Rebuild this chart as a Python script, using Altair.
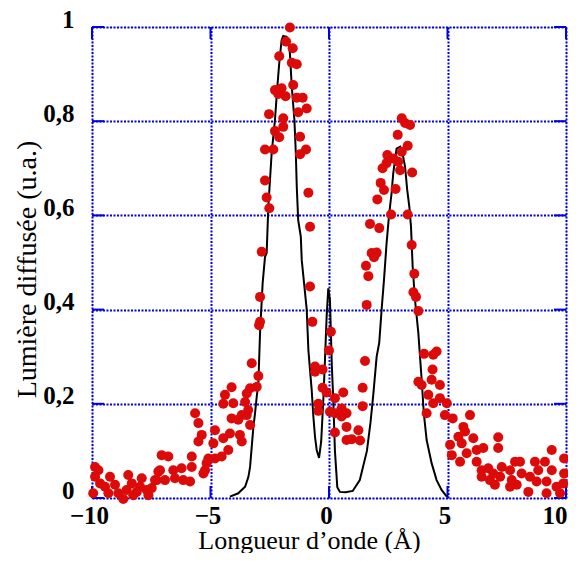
import altair as alt
import pandas as pd

# ---------------- data ----------------
line_x = [-4.18, -3.83, -3.54, -3.40, -3.33, -3.26, -3.19, -3.12, -3.05, -2.98, -2.91, -2.80,
          -2.70, -2.63, -2.56, -2.42, -2.28, -2.18, -2.10, -2.00, -1.93, -1.79, -1.68, -1.65,
          -1.57, -1.46, -1.40, -1.36, -1.30, -1.19, -1.15, -1.08, -0.94, -0.87, -0.73, -0.66,
          -0.59, -0.52, -0.42, -0.33, -0.24, -0.17, -0.10, -0.03, 0.04, 0.08, 0.12, 0.18,
          0.25, 0.35, 0.46, 0.70, 1.00, 1.30, 1.60, 1.75, 1.87, 2.01, 2.12, 2.22, 2.32, 2.43,
          2.54, 2.64, 2.71, 2.85, 3.00, 3.10, 3.21, 3.30, 3.39, 3.46, 3.53, 3.63, 3.77, 3.84,
          3.91, 4.00, 4.12, 4.33, 4.54, 4.75, 4.97]
line_y = [0.003, 0.010, 0.024, 0.045, 0.066, 0.109, 0.151, 0.180, 0.215, 0.244, 0.350, 0.456,
          0.512, 0.520, 0.619, 0.732, 0.803, 0.873, 0.923, 0.972, 0.981, 0.979, 0.958, 0.944,
          0.873, 0.803, 0.732, 0.661, 0.590, 0.555, 0.505, 0.470, 0.400, 0.314, 0.229, 0.173,
          0.130, 0.102, 0.085, 0.120, 0.208, 0.293, 0.385, 0.445, 0.420, 0.350, 0.280, 0.210,
          0.100, 0.023, 0.013, 0.012, 0.015, 0.038, 0.100, 0.160, 0.220, 0.300, 0.330, 0.400,
          0.463, 0.541, 0.604, 0.647, 0.689, 0.742, 0.746, 0.732, 0.703, 0.654, 0.618, 0.576,
          0.491, 0.420, 0.350, 0.300, 0.251, 0.180, 0.123, 0.074, 0.038, 0.017, 0.003]

pts_x = [
    # left tail
    -2.98, -4.11, -4.39, -3.33, -3.47, -3.05, -4.46, -4.04, -3.54, -3.41, -3.47, -4.11, -3.83,
    -3.68, -3.33, -5.65, -5.51, -5.37, -5.51, -4.81, -4.88, -4.46, -4.18, -3.76, -3.68, -4.25,
    -4.53, -4.81, -5.09, -5.16, -5.23, -5.30, -5.79, -5.79, -7.06, -6.78, -7.13, -6.57, -6.22,
    -7.27, -6.92, -6.50, -6.15, -5.86, -9.87, -9.73, -9.87, -9.66, -9.95, -9.24, -9.45, -9.03,
    -9.31, -8.89, -8.68, -8.47, -8.32, -8.54, -8.11, -8.26, -7.90, -7.97, -7.69, -7.62, -7.48,
    -7.34, -7.20, -2.91, -2.91, -2.95, -3.26, -2.84,
    # left peak
    -1.65, -1.81, -1.53, -2.10, -1.57, -1.36, -1.51, -2.28, -2.00, -2.14, -1.83, -1.36, -1.11,
    -0.94, -1.30, -2.53, -1.93, -1.93, -2.28, -2.10, -1.22, -2.70, -2.35, -0.97, -1.22, -2.70,
    -0.87, -2.63, -2.52, -0.80,
    # centre
    -0.80, -0.70, 0.08, 0.00, -0.59, -0.59, -0.27, -0.27, -0.10, 0.25, 0.60, -0.45, -0.45, 0.04,
    0.25, 0.53, 0.74, 0.53, 0.25, 0.74, 1.24, 0.74, 0.96, 1.31, 1.52, 1.42, 1.42, 1.59, 1.66,
    1.56, 1.80, 2.01,
    # right peak
    3.07, 3.21, 3.42, 2.90, 3.32, 3.07, 2.46, 2.71, 2.92, 2.43, 2.26, 3.00, 3.51, 2.18, 2.32,
    2.81, 2.04, 2.62, 3.32, 1.73, 2.12, 3.49, 1.90, 3.60, 3.56, 3.67, 3.77, 4.54,
    # right tail
    4.01, 4.40, 4.37, 3.77, 3.91, 4.33, 4.68, 4.19, 4.68, 4.40, 4.97, 4.12, 4.89, 5.22, 5.95,
    5.67, 5.74, 5.46, 5.11, 5.60, 6.09, 5.18, 5.53, 5.81, 6.23, 6.51, 7.14, 7.14, 6.23, 6.44,
    6.72, 6.44, 6.79, 7.00, 7.29, 7.22, 7.71, 7.92, 8.06, 8.13, 8.48, 8.41, 8.69, 8.83, 8.76,
    9.11, 9.40, 9.40, 9.18, 9.18, 9.60, 9.75, 9.92, 9.92, 9.89, 7.64, 7.85, 6.93, 7.64]
pts_y = [
    # left tail
    0.259, 0.235, 0.219, 0.233, 0.222, 0.236, 0.200, 0.201, 0.204, 0.187, 0.176, 0.169, 0.166,
    0.176, 0.155, 0.180, 0.159, 0.134, 0.120, 0.144, 0.116, 0.127, 0.137, 0.134, 0.120, 0.102,
    0.088, 0.084, 0.084, 0.074, 0.059, 0.052, 0.088, 0.066, 0.091, 0.088, 0.059, 0.059, 0.063,
    0.038, 0.038, 0.042, 0.038, 0.035, 0.066, 0.059, 0.045, 0.031, 0.010, 0.045, 0.024, 0.028,
    0.010, 0.010, -0.002, 0.049, 0.031, 0.017, 0.013, 0.006, 0.042, 0.024, 0.017, 0.006, 0.021,
    0.038, 0.056, 0.427, 0.374, 0.367, 0.286, 0.523,
    # left peak
    0.999, 0.969, 0.955, 0.938, 0.924, 0.921, 0.877, 0.866, 0.870, 0.858, 0.853, 0.850, 0.850,
    0.827, 0.819, 0.815, 0.806, 0.788, 0.779, 0.766, 0.767, 0.740, 0.740, 0.740, 0.730, 0.674,
    0.648, 0.638, 0.615, 0.576,
    # centre
    0.449, 0.374, 0.353, 0.313, 0.279, 0.268, 0.273, 0.234, 0.224, 0.212, 0.224, 0.200, 0.185,
    0.183, 0.180, 0.190, 0.180, 0.173, 0.139, 0.151, 0.144, 0.123, 0.125, 0.122, 0.291, 0.234,
    0.195, 0.410, 0.471, 0.493, 0.520, 0.521,
    # right peak
    0.806, 0.796, 0.792, 0.771, 0.748, 0.735, 0.728, 0.721, 0.714, 0.711, 0.700, 0.696, 0.691,
    0.669, 0.654, 0.656, 0.634, 0.602, 0.602, 0.582, 0.573, 0.537, 0.511, 0.476, 0.437, 0.427,
    0.397, 0.311,
    # right tail
    0.306, 0.304, 0.273, 0.247, 0.240, 0.251, 0.240, 0.219, 0.212, 0.201, 0.201, 0.180, 0.176,
    0.169, 0.176, 0.151, 0.141, 0.130, 0.113, 0.116, 0.127, 0.091, 0.077, 0.095, 0.102, 0.106,
    0.129, 0.106, 0.077, 0.059, 0.063, 0.045, 0.038, 0.028, 0.066, 0.045, 0.038, 0.028, 0.077,
    0.052, 0.045, 0.013, 0.077, 0.059, 0.035, 0.077, 0.102, 0.059, 0.035, 0.010, 0.024, 0.010,
    0.084, 0.052, 0.031, 0.059, 0.077, 0.052, 0.024]

x_ticks = [-10, -5, 0, 5, 10]
y_ticks = [0, 0.2, 0.4, 0.6, 0.8, 1.0]

# ---------------- chart ----------------
W, H = 474, 471
BLUE = "#0000e6"
FONT = "Liberation Serif"

line_df = pd.DataFrame({"x": line_x, "y": line_y})
pts_df = pd.DataFrame({"x": pts_x, "y": pts_y})
xt_df = pd.DataFrame({"t": x_ticks})
yt_df = pd.DataFrame({"t": y_ticks})

xscale = alt.Scale(domain=[-10, 10], nice=False, zero=False)
yscale = alt.Scale(domain=[0, 1], nice=False, zero=False)

xaxis = alt.Axis(values=x_ticks, grid=True, gridColor=BLUE, gridDash=[2, 1.5], gridWidth=2,
                 gridOpacity=1, ticks=False, domain=False, labelFont=FONT, labelFontSize=25,
                 labelFontWeight="bold", labelColor="black", labelPadding=5, labelFlush=False,
                 labelAlign={"condition": {"test": "datum.value == 10", "value": "right"},
                             "value": "center"},
                 labelOffset={"condition": {"test": "datum.value == 10", "value": 1},
                              "value": -3},
                 title="Longueur d\u2019onde (\u00c5)", titleFont=FONT, titleFontSize=26,
                 titleFontWeight="normal", titleColor="black", titleX=217, titleY=50,
                 titleBaseline="alphabetic")
yaxis = alt.Axis(values=y_ticks, grid=True, gridColor=BLUE, gridDash=[2, 1.5], gridWidth=2,
                 gridOpacity=1, ticks=False, domain=False, labelFont=FONT, labelFontSize=25,
                 labelFontWeight="bold", labelColor="black", labelPadding=18,
                 labelBaseline="alphabetic", labelFlush=False, format=".1~f",
                 labelExpr="replace(datum.label, '.', ',')",
                 title="Lumi\u00e8re diffus\u00e9e (u.a.)", titleFont=FONT, titleFontSize=28,
                 titleFontWeight="normal", titleColor="black", titleX=-65, titleY=242,
                 titleBaseline="middle")

base_line = alt.Chart(line_df).mark_line(color="black", strokeWidth=2).encode(
    x=alt.X("x:Q", scale=xscale, axis=xaxis),
    y=alt.Y("y:Q", scale=yscale, axis=yaxis),
)
points = alt.Chart(pts_df).mark_circle(color="#dd0a0a", size=100, opacity=1).encode(
    x=alt.X("x:Q", scale=xscale),
    y=alt.Y("y:Q", scale=yscale),
)

TL = 12
left_ticks = alt.Chart(yt_df).mark_rule(color=BLUE, strokeWidth=2).encode(
    y=alt.Y("t:Q", scale=yscale), x=alt.value(0), x2=alt.value(TL))
right_ticks = alt.Chart(yt_df).mark_rule(color=BLUE, strokeWidth=2).encode(
    y=alt.Y("t:Q", scale=yscale), x=alt.value(W - TL), x2=alt.value(W))
bottom_ticks = alt.Chart(xt_df).mark_rule(color=BLUE, strokeWidth=2).encode(
    x=alt.X("t:Q", scale=xscale), y=alt.value(H), y2=alt.value(H - TL))
top_ticks = alt.Chart(xt_df).mark_rule(color=BLUE, strokeWidth=2).encode(
    x=alt.X("t:Q", scale=xscale), y=alt.value(0), y2=alt.value(TL))

chart = alt.layer(left_ticks, right_ticks, bottom_ticks, top_ticks, base_line, points).properties(
    width=W, height=H,
    autosize=alt.AutoSizeParams(type="none"),
    padding={"left": 84, "top": 19, "right": 2, "bottom": 55},
).configure_view(stroke=BLUE, strokeWidth=3).configure(background="white")

chart.save("out.html", embed_options={"renderer": "svg", "actions": False})
